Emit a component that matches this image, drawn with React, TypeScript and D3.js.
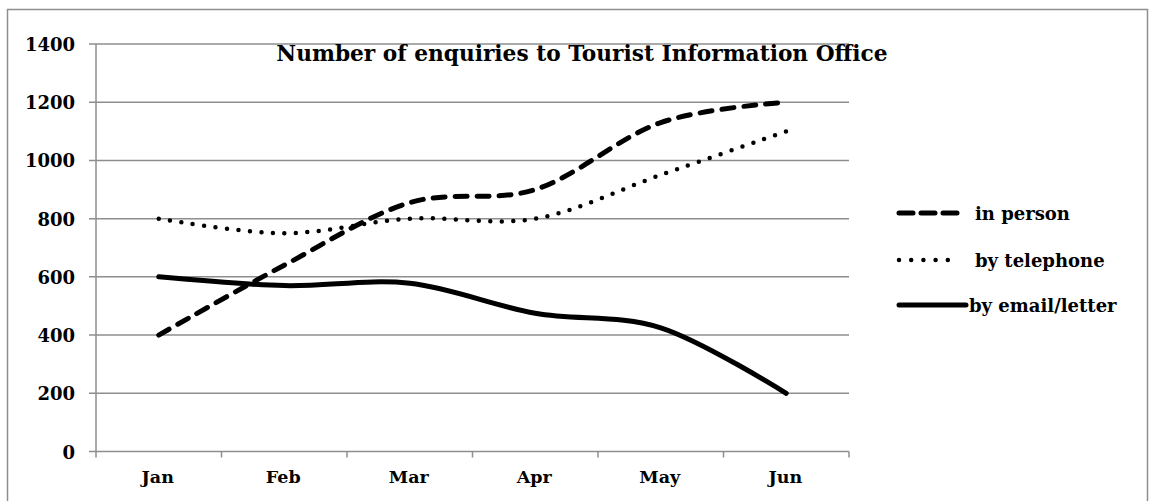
import React from "react";
import * as d3 from "d3";

const months = ["Jan", "Feb", "Mar", "Apr", "May", "Jun"];
const inPerson = [400, 640, 855, 900, 1130, 1200];
const byTelephone = [800, 750, 800, 800, 950, 1100];
const byEmail = [600, 570, 578, 475, 425, 200];
const yTicks = [0, 200, 400, 600, 800, 1000, 1200, 1400];
const seriesNames = ["in person", "by telephone", "by email/letter"];

const W = 1149;
const H = 501;
const FONT = "'DejaVu Serif', serif";

export default function App() {
  const x = d3.scaleBand<string>().domain(months).range([96, 849]).padding(0);
  const y = d3.scaleLinear().domain([0, 1400]).range([451.5, 44]);
  const line = d3
    .line<number>()
    .x((_, i) => (x(months[i]) as number) + x.bandwidth() / 2)
    .y((d) => y(d))
    .curve(d3.curveCardinal.tension(0));

  const styles = [
    { dash: "12 10", width: 5 },
    { dash: "0 11.5", width: 4.5 },
    { dash: "none", width: 5 },
  ];
  const data = [inPerson, byTelephone, byEmail];
  const legendY = [213, 260, 305];
  const grid = "#8e8e8e";

  return (
    <svg
      width={W}
      height={H}
      style={{ position: "absolute", left: 0, top: 0, background: "#fff" }}
      fontFamily={FONT}
      fontWeight="bold"
    >
      <rect x={7.5} y={9.5} width={1140} height={520} fill="#fff" stroke={grid} strokeWidth={1.5} />
      {yTicks.map((t) => (
        <g key={t}>
          <line x1={89} x2={849} y1={y(t)} y2={y(t)} stroke={grid} strokeWidth={1.5} />
          <text x={75} y={y(t) + 7} textAnchor="end" fontSize={18} fill="#000">
            {t}
          </text>
        </g>
      ))}
      <line x1={96} x2={96} y1={y(1400)} y2={y(0) + 6} stroke={grid} strokeWidth={1.5} />
      {months.map((m) => (
        <line
          key={"t" + m}
          x1={(x(m) as number) + x.bandwidth()}
          x2={(x(m) as number) + x.bandwidth()}
          y1={y(0)}
          y2={y(0) + 6}
          stroke={grid}
          strokeWidth={1.5}
        />
      ))}
      {months.map((m) => (
        <text
          key={m}
          x={(x(m) as number) + x.bandwidth() / 2 - 1}
          y={483}
          textAnchor="middle"
          fontSize={17.5}
          fill="#000"
        >
          {m}
        </text>
      ))}
      {data.map((d, i) => (
        <path
          key={i}
          d={line(d) as string}
          fill="none"
          stroke="#000"
          strokeWidth={styles[i].width}
          strokeDasharray={styles[i].dash}
          strokeLinecap="round"
        />
      ))}
      <text x={582} y={61} textAnchor="middle" fontSize={21.7} fill="#000">
        Number of enquiries to Tourist Information Office
      </text>
      {seriesNames.map((n, i) => (
        <g key={n}>
          <line
            x1={899}
            x2={i === 2 ? 966 : 957}
            y1={legendY[i]}
            y2={legendY[i]}
            stroke="#000"
            strokeWidth={styles[i].width}
            strokeDasharray={i === 0 ? "14 8" : i === 1 ? "0 12.2" : "none"}
            strokeLinecap="round"
          />
          <text x={i === 2 ? 969 : 975} y={legendY[i] + 6.5} fontSize={18} fill="#000">
            {n}
          </text>
        </g>
      ))}
    </svg>
  );
}
